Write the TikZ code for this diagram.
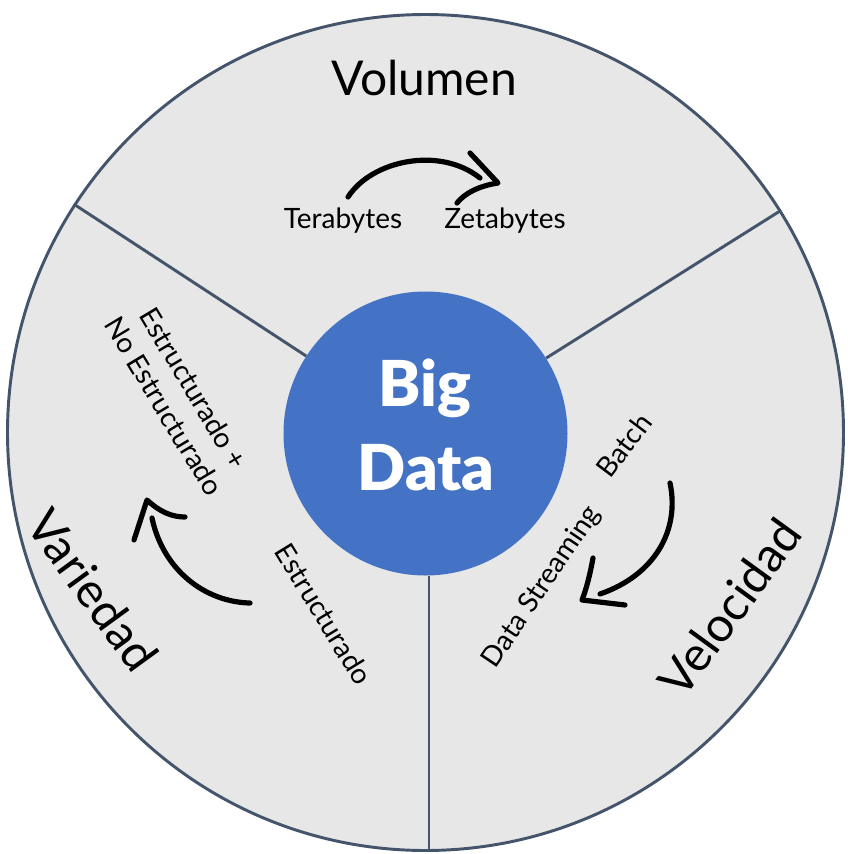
\documentclass[tikz,border=0pt]{standalone}
\usepackage{fontspec}
\setmainfont{Lato}
\newfontfamily\heavyfont{Lato Black}
\definecolor{ringc}{HTML}{E7E7E7}
\definecolor{rimc}{HTML}{44546A}
\definecolor{bigc}{HTML}{4472C4}
\begin{document}
\begin{tikzpicture}[x=0.75pt,y=-0.75pt,
  rim/.style={draw=rimc, line width=2.2pt},
  hand/.style={line width=3.9pt, line cap=round, line join=round},
  lbl/.style={inner sep=0pt, font=\fontsize{21}{26}\selectfont},
  biglbl/.style={inner sep=0pt, font=\fontsize{36}{40}\selectfont},
  core/.style={inner sep=0pt, text=white, font=\fontsize{47.5}{52}\selectfont\heavyfont}]
\useasboundingbox (0,0) rectangle (852,854);
\fill[white] (0,0) rectangle (852,854);
% rings
\node[circle, fill=ringc, rim, minimum size=627pt, inner sep=0pt] (outer) at (425.5,432.5) {};
\node[circle, fill=bigc, minimum size=213pt, inner sep=0pt] (inner) at (425.5,433.5) {};
\draw[rim] (inner.147.5) -- (outer.147.5);
\draw[rim] (inner.32.5) -- (outer.32.5);
\draw[rim] ([xshift=2.6pt]inner.south) -- ([xshift=2.6pt]outer.south);
% centre text
\node[core, anchor=base] (bigw) at (425,406) {Big};
\node[core, anchor=base] (dataw) at (426,490) {Data};
% Volumen
\node[biglbl, anchor=base] (vol) at (424,95) {Volumen};
\node[lbl, anchor=base] (tera) at (343,228) {Terabytes};
\node[lbl, anchor=base] (zeta) at (505,228) {Zetabytes};
\draw[hand] (348,197) .. controls (372,160) and (440,146) .. (480,178);
\draw[hand] (470,153) -- (498,183) .. controls (478,186) and (464,194) .. (457,203);
% Variedad
\node[biglbl, rotate=-54] (var) at (93,590) {Variedad};
\node[lbl, rotate=-59, align=center] (estno) at (179,397) {Estructurado +\\No Estructurado};
\node[lbl, rotate=-58.5] (est) at (324,614) {Estructurado};
\draw[hand] (250,603) .. controls (205,602) and (163,570) .. (152,518);
\draw[hand] (134,540) -- (147,500) .. controls (160,512) and (172,517) .. (185,517);
% Velocidad
\node[biglbl, rotate=54] (vel) at (730,607) {Velocidad};
\node[lbl, rotate=56] (stream) at (542,587) {Data Streaming};
\node[lbl, rotate=53] (batch) at (624,445) {Batch};
\draw[hand] (670,483) .. controls (680,530) and (655,575) .. (600,594);
\draw[hand] (593,558) .. controls (590,575) and (586,590) .. (582,600) -- (625,605);
\end{tikzpicture}
\end{document}
